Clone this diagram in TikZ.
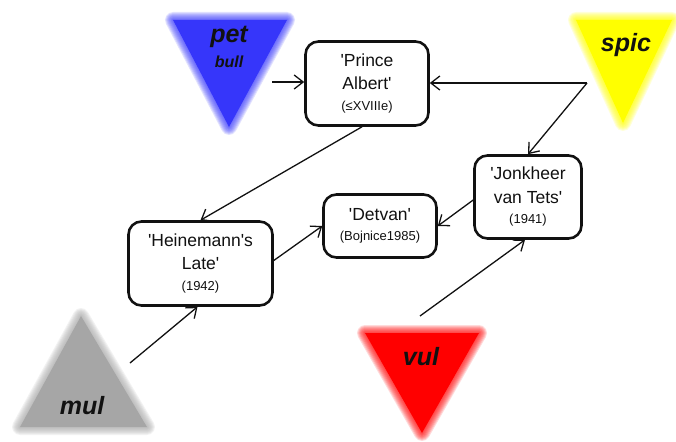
\documentclass[tikz,border=0pt]{standalone}
\usepackage{fontspec}
\setmainfont{Liberation Sans}[Ligatures=TeXOff]
\usetikzlibrary{arrows.meta}
\definecolor{Ink}{HTML}{111111}
\definecolor{PetBlue}{HTML}{3636FA}
\definecolor{SpicYellow}{HTML}{FFFF00}
\definecolor{MulGrey}{HTML}{A6A6A6}
\definecolor{VulRed}{HTML}{FF0000}
\tikzset{
  cultivar/.style={draw=Ink,line width=2.6pt,rounded corners=13pt,fill=white,align=center,text=Ink,font=\fontsize{17.5}{23.5}\selectfont,inner sep=0pt},
  tag/.style={font=\fontsize{25}{28}\selectfont\bfseries\itshape,text=Ink,inner sep=0pt},
  subtag/.style={font=\fontsize{16}{18}\selectfont\bfseries\itshape,text=Ink,inner sep=0pt},
  arr/.style={-{Straight Barb[length=9pt,width=14pt]},draw=Ink,line width=1.3pt}
}
% soft-edged triangle: colour, three corners
\newcommand{\hazetri}[4]{%
  \fill[#1] #2 -- #3 -- #4 -- cycle;
  \foreach \w in {2,4,...,16}
    \draw[#1,opacity=.14,line width=\w pt,line join=round] #2 -- #3 -- #4 -- cycle;
}
\newcommand{\yr}[1]{\\[-3pt]{\fontsize{13}{15}\selectfont #1}}

\begin{document}
\begin{tikzpicture}[x=1pt,y=-1pt]
  \useasboundingbox (0,0) rectangle (676,441);
  % the four parent triangles
  \hazetri{PetBlue}{(173,20)}{(287,20)}{(229,127)}
  \hazetri{SpicYellow}{(576,20)}{(672,20)}{(623,123)}
  \hazetri{MulGrey}{(20,427)}{(147,427)}{(81,316)}
  \hazetri{VulRed}{(365,333)}{(479,333)}{(422,433)}
  \node[tag] (pet) at (229,37) {pet};
  \node[subtag] (bull) at (229,62) {bull};
  \node[tag] (spic) at (626,45) {spic};
  \node[tag] (mul) at (82,406) {mul};
  \node[tag] (vul) at (421,357) {vul};
  % cultivars
  \node[cultivar,minimum width=123pt,minimum height=84pt] (albert) at (367,83.5) {'Prince\\Albert'\yr{(≤XVIIIe)}};
  \node[cultivar,minimum width=107pt,minimum height=83pt] (tets) at (528,197) {'Jonkheer\\van Tets'\yr{(1941)}};
  \node[cultivar,minimum width=113pt,minimum height=63pt] (detvan) at (380,226) {'Detvan'\yr{(Bojnice1985)}};
  \node[cultivar,minimum width=144pt,minimum height=84pt] (late) at (200.5,263.5) {'Heinemann's\\Late'\yr{(1942)}};
  % loose ends
  \coordinate (petout) at (272,82);
  \coordinate (spicout) at (587,83);
  \coordinate (mulout) at (130,363);
  \coordinate (vulout) at (420,316);
  % lineage
  \draw[arr] (petout) -- (petout -| albert.west);
  \draw[arr] (spicout) -- (spicout -| albert.east);
  \draw[arr] (spicout) -- (tets.north);
  \draw[arr] ([xshift=-5pt]albert.south) -- (late.north);
  \draw[arr] ([yshift=3pt]late.east) -- (detvan.west);
  \draw[arr] ([yshift=-3pt]tets.west) -- (detvan.east);
  \draw[arr] (mulout) -- ([xshift=-3pt]late.south);
  \draw[arr] (vulout) -- ([xshift=-3pt]tets.south);
\end{tikzpicture}
\end{document}
